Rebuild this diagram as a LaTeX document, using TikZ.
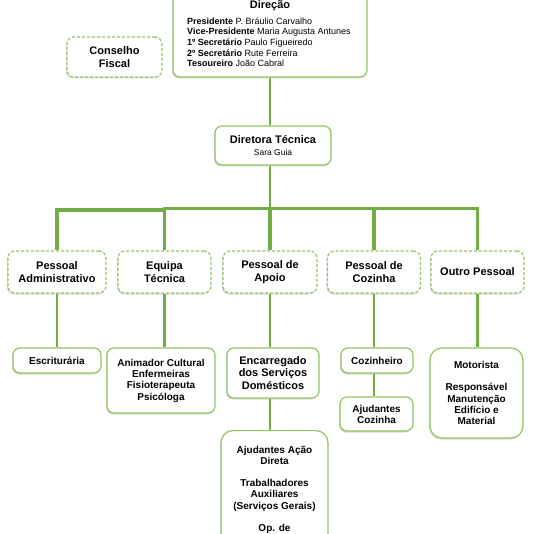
\documentclass[tikz,border=0pt]{standalone}
\usepackage{fontspec}
\setmainfont{Liberation Sans}
\usetikzlibrary{shadows}
\definecolor{boxgreen}{RGB}{146,196,96}
\definecolor{linegreen}{RGB}{112,173,71}
\tikzset{
  box/.style={draw=boxgreen, line width=1.2pt, rounded corners=7pt, fill=white,
    align=center, inner sep=0pt,
    font=\bfseries\fontsize{10}{11.3}\selectfont,
    drop shadow={shadow xshift=-1pt, shadow yshift=-1.5pt, opacity=0.3, fill=gray}},
  bigbox/.style={box, rounded corners=12pt},
  dbox/.style={box, dash pattern=on 3pt off 2pt,
    font=\bfseries\fontsize{11}{13.6}\selectfont},
  conn/.style={draw=linegreen, line width=2.5pt},
  bar/.style={draw=linegreen, line width=3.2pt},
}
\begin{document}
\begin{tikzpicture}[x=1pt,y=-1pt]
\useasboundingbox (0,0) rectangle (533,534);
% Direcao
\node[box, minimum width=194pt, minimum height=100pt] (dir) at (270,27) {};
\node[anchor=base, inner sep=0pt, font=\bfseries\fontsize{11}{13}\selectfont] (dirt) at (270,8.5) {Direção};
\node[anchor=north west, align=left, inner sep=0pt, font=\fontsize{9}{10.6}\selectfont] (dirl) at (187,17.5)
  {\textbf{Presidente} P. Bráulio Carvalho\\
   \textbf{Vice-Presidente} Maria Augusta Antunes\\
   \textbf{1º Secretário} Paulo Figueiredo\\
   \textbf{2º Secretário} Rute Ferreira\\
   \textbf{Tesoureiro} João Cabral};
% Conselho Fiscal
\node[dbox, minimum width=95pt, minimum height=40pt] (cf) at (114.5,57) {Conselho\\Fiscal};
% Diretora Tecnica
\node[box, minimum width=116pt, minimum height=39pt, font=\bfseries\fontsize{11}{11.5}\selectfont] (dt) at (273,145.5)
  {Diretora Técnica\\{\mdseries\fontsize{8.5}{8.5}\selectfont Sara Guia}};
% Level 2
\node[dbox, minimum width=98pt, minimum height=42pt] (pa) at (57,272) {Pessoal\\Administrativo};
\node[dbox, minimum width=93pt, minimum height=42pt] (et) at (164.5,272) {Equipa\\Técnica};
\node[dbox, minimum width=94pt, minimum height=42pt] (pda) at (270,272) {Pessoal de\\Apoio};
\node[dbox, minimum width=93pt, minimum height=42pt] (pdc) at (374,272) {Pessoal de\\Cozinha};
\node[dbox, minimum width=93pt, minimum height=42pt] (op) at (477.5,272) {Outro Pessoal};
% Level 3
\node[box, minimum width=88pt, minimum height=25pt] (esc) at (57,360.5) {Escriturária};
\node[box, minimum width=108pt, minimum height=65pt] (ani) at (161,380.5)
  {Animador Cultural\\Enfermeiras\\Fisioterapeuta\\Psicóloga};
\node[box, minimum width=92pt, minimum height=50pt, font=\bfseries\fontsize{11}{12.5}\selectfont] (enc) at (273,373)
  {Encarregado\\dos Serviços\\Domésticos};
\node[box, minimum width=72pt, minimum height=25pt] (coz) at (377,360.5) {Cozinheiro};
\node[box, minimum width=73pt, minimum height=34pt, font=\bfseries\fontsize{10}{11}\selectfont] (ajc) at (376.5,414) {Ajudantes\\Cozinha};
\node[bigbox, minimum width=93pt, minimum height=90pt] (mot) at (476.5,393)
  {Motorista\\[11.3pt]Responsável\\Manutenção\\Edifício e\\Material};
\node[bigbox, anchor=north, minimum width=107pt, inner ysep=15.5pt, font=\bfseries\fontsize{10}{11.2}\selectfont] (aad) at (274.5,430)
  {Ajudantes Ação\\Direta\\[11pt]Trabalhadores\\Auxiliares\\(Serviços Gerais)\\[11pt]Op. de\\ \\ \\};
% connectors
\coordinate (bar) at (0,208.5);
\coordinate (barl) at (0,210);
\draw[conn, line width=2pt] (dir.south) -- (dir.south |- dt.north);
\draw[conn, line width=2pt] (dt.south -| dir.south) -- (dir.south |- bar);
\draw[bar] (pa.north) -- (pa.north |- barl) -- (et.north |- barl);
\draw[bar] (et.north) -- (et.north |- bar) -- (op.north |- bar) -- (op.north);
\draw[bar] (pda.north) -- (pda.north |- bar);
\draw[bar] (pdc.north) -- (pdc.north |- bar);
\draw[conn] (pa.south) -- (pa.south |- esc.north);
\draw[conn] (et.south) -- (et.south |- ani.north);
\draw[conn] (pda.south) -- (pda.south |- enc.north);
\draw[conn] (pdc.south) -- (pdc.south |- coz.north);
\draw[conn] (op.south) -- (op.south |- mot.north);
\draw[conn] (enc.south -| pda.south) -- (aad.north -| pda.south);
\draw[conn] (coz.south -| pdc.south) -- (ajc.north -| pdc.south);
\end{tikzpicture}
\end{document}
